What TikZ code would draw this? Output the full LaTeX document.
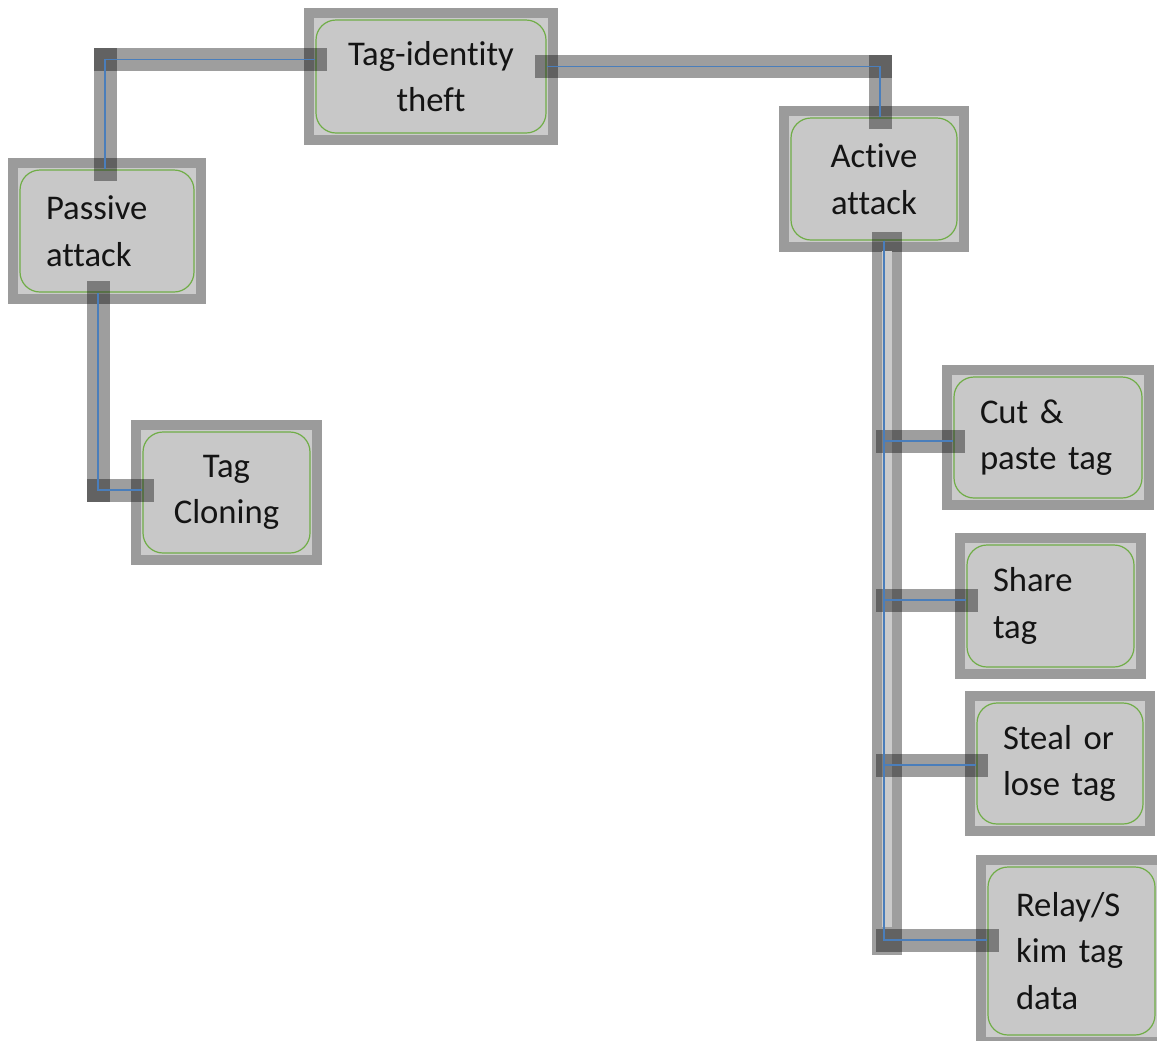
\documentclass[tikz,border=0pt]{standalone}
\usepackage{fontspec}
\setmainfont{Carlito}[Ligatures=NoCommon]
\usetikzlibrary{backgrounds,calc}
\definecolor{framegray}{HTML}{9B9B9B}
\definecolor{lightfill}{HTML}{CBCBCB}
\definecolor{boxfill}{HTML}{C8C8C8}
\definecolor{boxgreen}{HTML}{70AD47}
\definecolor{linkblue}{HTML}{4A7EBB}
\tikzset{
  box/.style={draw=boxgreen, line width=0.9pt, fill=boxfill, rounded corners=15pt,
    inner ysep=0pt, font=\fontsize{26}{35}\selectfont, text=black!92},
  lbox/.style={box, align=left, inner xsep=19.5pt},
  cbox/.style={box, align=center, inner xsep=0pt},
  conn/.style={line width=17.25pt, black, opacity=0.38, line cap=rect},
  trunkbar/.style={line width=22.5pt, black, opacity=0.38, line cap=butt},
  trunkcore/.style={line width=7.5pt, lightfill, line cap=butt},
  blueln/.style={linkblue, line width=0.9pt, line join=miter},
}
\begin{document}
\begin{tikzpicture}[x=0.75pt,y=-0.75pt]
\path[use as bounding box] (0,0) rectangle (1157,1040);
\clip (0,0) rectangle (1157,1040);

% nodes (inner rounded boxes)
\node[cbox, minimum width=172.5pt, minimum height=84.75pt] (tagid) at (431,76.5) {Tag-identity\\theft};
\node[lbox, text width=91.5pt, minimum height=91.5pt] (passive) at (107,231) {Passive\\attack};
\node[cbox, minimum width=125.25pt, minimum height=90.75pt] (cloning) at (226.5,492.5) {Tag\\Cloning};
\node[cbox, minimum width=124.5pt, minimum height=91.5pt] (active) at (874,179) {Active\\attack};
\node[lbox, text width=102pt, minimum height=90.75pt] (cut) at (1048,437.5) {Cut \&\\paste tag};
\node[lbox, text width=86.25pt, minimum height=91.5pt] (share) at (1050.5,606) {Share\\tag};
\node[lbox, text width=85.5pt, minimum height=90.75pt] (steal) at (1060,763.5) {Steal or\\lose tag};
\node[lbox, inner xsep=21pt, text width=83.25pt, minimum height=126pt] (relay) at (1071.5,951) {Relay/S\\kim tag\\data};

% frames behind the boxes
\begin{scope}[on background layer]
  \clip (0,0) rectangle (1157,1040);
  \foreach \n in {tagid,passive,cloning,active,cut,share,steal,relay}{
    \fill[framegray] ($(\n.north west)+(-11,-11)$) rectangle ($(\n.south east)+(11,11)$);
    \fill[lightfill] ($(\n.north west)+(-1.5,-1.5)$) rectangle ($(\n.south east)+(1.5,1.5)$);
  }
\end{scope}

% Passive -> Tag-identity
\coordinate (p1) at ($(passive.north)+(-2,0)$);
\coordinate (t1) at ($(tagid.west)+(0,-17)$);
\coordinate (c1) at (p1 |- t1);
\draw[conn] (p1) -- (c1);
\draw[conn] (c1) -- (t1);

% Tag-identity -> Active
\coordinate (t2) at ($(tagid.east)+(0,-10)$);
\coordinate (a1) at ($(active.north)+(6,0)$);
\coordinate (c2) at (a1 |- t2);
\draw[conn] (t2) -- (c2);
\draw[conn] (c2) -- (a1);

% Passive -> Tag Cloning
\coordinate (p2) at ($(passive.south)+(-9,0)$);
\coordinate (cl1) at ($(cloning.west)+(0,-2.5)$);
\coordinate (c3) at (p2 |- cl1);
\draw[conn] (p2) -- (c3);
\draw[conn] (c3) -- (cl1);

% Active -> children (shared trunk)
\coordinate (a2) at ($(active.south)+(13,-9)$);
\coordinate (tb) at ($(a2 |- relay.west)+(0,4)$);
\draw[trunkbar] (a2) -- (tb);
\draw[trunkcore] ($(a2)+(0,19)$) -- ($(tb)+(0,-28)$);
\coordinate (k1) at ($(cut.west)+(0,3.5)$);
\coordinate (k2) at ($(share.west)+(0,-6)$);
\coordinate (k3) at ($(steal.west)+(0,1.5)$);
\coordinate (k4) at ($(relay.west)+(0,-11)$);
\foreach \k in {k1,k2,k3,k4}{
  \draw[conn] (tb |- \k) -- (\k);
}

% thin blue centre lines
\draw[blueln] (p1) -- (c1) -- (t1);
\draw[blueln] (t2) -- (c2) -- (a1);
\draw[blueln] (p2) -- (c3) -- (cl1);
\coordinate (bx) at ($(active.south)+(10,0)$);
\foreach \k in {k1,k2,k3,k4}{
  \draw[blueln] (bx) |- (\k);
}
\end{tikzpicture}
\end{document}
